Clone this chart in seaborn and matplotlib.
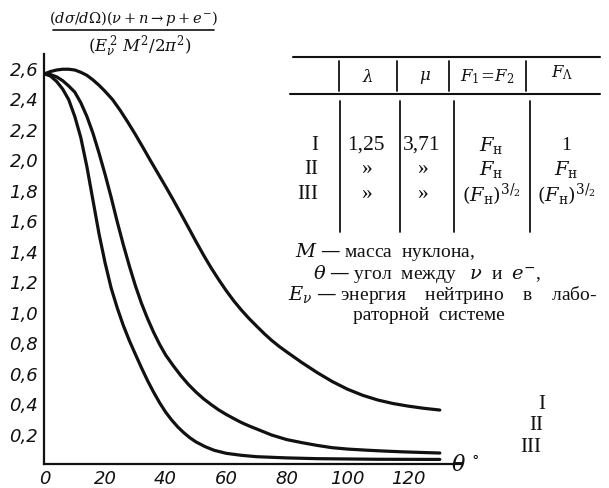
import numpy as np
import pandas as pd
import matplotlib
matplotlib.use("Agg")
import matplotlib.pyplot as plt
from matplotlib.lines import Line2D
import seaborn as sns

# ---------------- data ----------------
theta_I = [0, 2, 4, 6, 8, 10, 12, 14, 16, 18, 20, 22.5, 25, 27.5, 30, 32.5, 35, 37.5, 40,
           42.5, 45, 47.5, 50, 52.5, 55, 57.5, 60, 62.5, 65, 67.5, 70, 72.5, 75, 77.5, 80,
           85, 90, 95, 100, 105, 110, 115, 120, 125, 130.5]
sigma_I = [2.56, 2.575, 2.585, 2.59, 2.59, 2.585, 2.57, 2.55, 2.52, 2.485, 2.445, 2.39, 2.32,
           2.243, 2.162, 2.077, 1.99, 1.905, 1.82, 1.733, 1.643, 1.552, 1.46, 1.371, 1.287,
           1.21, 1.137, 1.07, 1.01, 0.955, 0.905, 0.856, 0.811, 0.771, 0.735, 0.665, 0.60,
           0.541, 0.491, 0.451, 0.42, 0.397, 0.38, 0.366, 0.354]

theta_II = [0, 2, 4, 6, 8, 10, 12, 14, 16, 18, 20, 22, 24, 26, 28, 30, 32, 34, 36, 38, 40,
            42.5, 45, 47.5, 50, 52.5, 55, 57.5, 60, 62.5, 65, 67.5, 70, 75, 80, 85, 90, 95,
            100, 106, 112, 118, 124, 130.5]
sigma_II = [2.56, 2.555, 2.54, 2.515, 2.48, 2.44, 2.37, 2.28, 2.17, 2.04, 1.90, 1.75, 1.59,
            1.44, 1.30, 1.17, 1.055, 0.955, 0.865, 0.785, 0.715, 0.645, 0.58, 0.522, 0.472,
            0.428, 0.39, 0.355, 0.325, 0.298, 0.272, 0.25, 0.23, 0.19, 0.16, 0.14, 0.122,
            0.107, 0.098, 0.091, 0.085, 0.08, 0.076, 0.072]

theta_III = [0, 2, 4, 6, 8, 10, 12, 14, 16, 18, 20, 22, 24, 26, 28, 30, 32, 34, 36, 38, 40,
             42, 44, 46, 48, 50, 53, 56, 60, 65, 70, 80, 90, 110, 130.5]
sigma_III = [2.56, 2.545, 2.51, 2.46, 2.39, 2.28, 2.14, 1.95, 1.73, 1.51, 1.32, 1.155, 1.025,
             0.91, 0.81, 0.72, 0.632, 0.548, 0.472, 0.402, 0.34, 0.288, 0.243, 0.205, 0.172,
             0.145, 0.114, 0.09, 0.07, 0.057, 0.048, 0.04, 0.035, 0.031, 0.03]

curve_names = ["I", "II", "III"]

x_ticks = [0, 10, 20, 30, 40, 50, 60, 70, 80, 90, 100, 110, 120, 130]
x_labels = ["0", "", "20", "", "40", "", "60", "", "80", "", "100", "", "120", ""]
y_ticks = [0.2, 0.4, 0.6, 0.8, 1.0, 1.2, 1.4, 1.6, 1.8, 2.0, 2.2, 2.4, 2.6]
y_labels = ["0,2", "0,4", "0,6", "0,8", "1,0", "1,2", "1,4", "1,6", "1,8", "2,0", "2,2",
            "2,4", "2,6"]

tbl_header = [r"$\lambda$", r"$\mu$", r"$F_1\!=\!F_2$", r"$F_{\Lambda}$"]
tbl_rows = ["I", "II", "III"]
tbl_lambda = ["1,25", "»", "»"]
tbl_mu = ["3,71", "»", "»"]
tbl_F12 = [r"$F_{\mathrm{н}}$", r"$F_{\mathrm{н}}$", r"$(F_{\mathrm{н}})^{3/_2}$"]
tbl_FA = ["1", r"$F_{\mathrm{н}}$", r"$(F_{\mathrm{н}})^{3/_2}$"]

notes = [r"$M$ — масса  нуклона,",
         r"$\theta$ — угол  между   $\nu$  и  $e^{-}$,",
         r"$E_{\nu}$ — энергия    нейтрино    в    лабо-",
         "раторной  системе"]

# ---------------- figure ----------------
sns.set_style("white")
plt.rcParams["mathtext.fontset"] = "dejavuserif"

W, H = 609, 489
fig = plt.figure(figsize=(W / 100, H / 100), dpi=100)
fig.patch.set_facecolor("white")


def fx(px):
    return px / W


def fy(py):
    return 1 - py / H


ax = fig.add_axes([fx(44.5), fy(465), (461 - 44.5) / W, (465 - 55) / H])

df = pd.concat([
    pd.DataFrame({"theta": theta_I, "sigma": sigma_I, "curve": "I"}),
    pd.DataFrame({"theta": theta_II, "sigma": sigma_II, "curve": "II"}),
    pd.DataFrame({"theta": theta_III, "sigma": sigma_III, "curve": "III"}),
])
sns.lineplot(data=df, x="theta", y="sigma", hue="curve", sort=False,
             palette={"I": "#111111", "II": "#111111", "III": "#111111"},
             linewidth=2.3, legend=False, ax=ax)
for ln in ax.lines:
    ln.set_solid_joinstyle("round")
    ln.set_solid_capstyle("round")

ax.set_xlim(0, 137.5)
ax.set_ylim(0, 2.69)
for s in ["top", "right"]:
    ax.spines[s].set_visible(False)
for s in ["left", "bottom"]:
    ax.spines[s].set_linewidth(1.6)
    ax.spines[s].set_color("#111111")

tick_font = dict(family="DejaVu Sans", style="italic", size=13)
ax.set_xticks(x_ticks)
ax.set_xticklabels(x_labels, **tick_font)
ax.set_yticks(y_ticks)
ax.set_yticklabels(y_labels, **tick_font)
ax.tick_params(axis="both", direction="in", length=5, width=1.3, color="#111111",
               labelcolor="#111111")
ax.tick_params(axis="x", pad=3.5)
ax.tick_params(axis="y", pad=4.5)
ax.set_xlabel("")
ax.set_ylabel("")

# axis title (x)
fig.text(fx(465), fy(465), r"$\theta^{\,\circ}$", fontsize=16, ha="center", va="center",
         color="#111111")

# y quantity (fraction)
fig.text(fx(133), fy(19), r"$(d\sigma/d\Omega)(\nu+n\to p+e^{-})$", fontsize=10.5,
         ha="center", va="center", color="#111111")
fig.add_artist(Line2D([fx(53), fx(214)], [fy(31), fy(31)], color="#111111", lw=1.2))
fig.text(fx(140), fy(47), r"$(E_{\nu}^{\,2}\ M^{2}/2\pi^{2})$", fontsize=12,
         ha="center", va="center", color="#111111")

# curve labels at right
serif = ["Liberation Serif", "DejaVu Serif"]
for name, xr, py in zip(curve_names, [545, 543, 541], [405, 426, 447]):
    fig.text(fx(xr), fy(py), name, family=serif, fontsize=15, ha="right", va="center",
             color="#111111")

# ---------------- table ----------------
lc = "#111111"
fig.add_artist(Line2D([fx(293), fx(600)], [fy(58), fy(58)], color=lc, lw=1.5))
fig.add_artist(Line2D([fx(290), fx(600)], [fy(95), fy(95)], color=lc, lw=1.5))
for xv in [339, 397, 449, 526]:
    fig.add_artist(Line2D([fx(xv), fx(xv)], [fy(62), fy(92)], color=lc, lw=1.3))
for xv in [340, 400, 454, 530]:
    fig.add_artist(Line2D([fx(xv), fx(xv)], [fy(102), fy(233)], color=lc, lw=1.3))

for txt, xc, py in zip(tbl_header, [368, 425, 487, 562], [77, 77, 77, 73]):
    fig.text(fx(xc), fy(py), txt, fontsize=12, ha="center", va="center", color=lc)

row_y = [145, 170, 195]
for i, py in enumerate(row_y):
    fig.text(fx(318), fy(py), tbl_rows[i], family=serif, fontsize=15, ha="right",
             va="center", color=lc)
    fig.text(fx(366), fy(py), tbl_lambda[i], family=serif, fontsize=15.5, ha="center",
             va="center", color=lc)
    fig.text(fx(422), fy(py), tbl_mu[i], family=serif, fontsize=15.5, ha="center",
             va="center", color=lc)
    fig.text(fx(491), fy(py), tbl_F12[i], family=serif, fontsize=14, ha="center",
             va="center", color=lc)
    fig.text(fx(566), fy(py), tbl_FA[i], family=serif, fontsize=14, ha="center",
             va="center", color=lc)

# notes
for txt, xl, py in zip(notes, [295, 313, 288, 353], [252, 274, 295, 316]):
    fig.text(fx(xl), fy(py), txt, family=serif, fontsize=14, ha="left", va="center",
             color=lc)

fig.savefig("out.png", dpi=100, facecolor="white")
